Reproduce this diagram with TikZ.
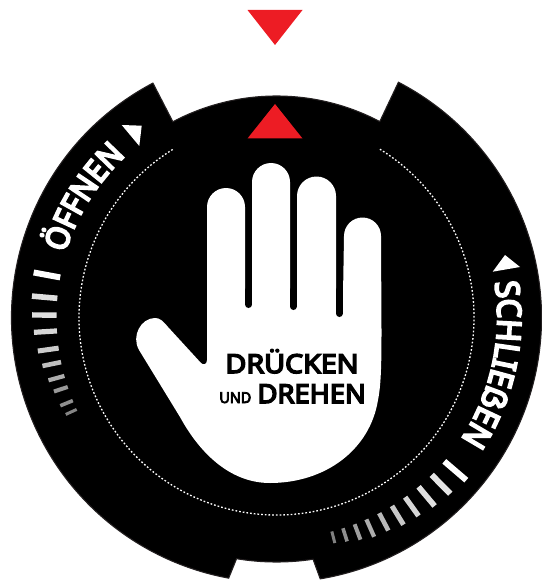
\documentclass[tikz,border=0pt]{standalone}
\usepackage{fontspec}
\setmainfont{Noto Sans}[FakeStretch=0.93,FakeBold=6]
\newfontfamily\widebold{Noto Sans}[FakeStretch=1.1,FakeBold=6]
\newfontfamily\midbold{Noto Sans}[FakeStretch=1.05,FakeBold=6]
\newfontfamily\narrowbold{Noto Sans}[FakeStretch=0.96,FakeBold=5]
\usetikzlibrary{decorations.text,calc}
\definecolor{rimgrey}{HTML}{231F20}
\definecolor{signalred}{HTML}{ED1C24}
\tikzset{
  x=1pt,y=1pt,
  rimshape/.style={fill=black,draw=rimgrey,line width=1.1pt,line join=miter},
  redmark/.style={fill=signalred,draw=none},
  whitemark/.style={fill=white,draw=none},
  dialdots/.style={draw=white,line width=1.3pt,dash pattern=on 1.7pt off 2pt},
  handshape/.style={fill=white,draw=none},
  slit/.style={draw=black,line width=7pt,line cap=round},
  ticktip/.style={line cap=butt},
  biglabel/.style={font=\widebold\fontsize{26}{26}\selectfont,text=black,inner sep=0pt},
  midlabel/.style={font=\midbold\fontsize{26}{26}\selectfont,text=black,inner sep=0pt},
  smalllabel/.style={font=\narrowbold\fontsize{15}{15}\selectfont,text=black,inner sep=0pt}
}
\begin{document}
\begin{tikzpicture}
\useasboundingbox (0,-580) rectangle (541,0);
\coordinate (c) at (276.5,-317.5);
% rim
\draw[rimshape] ($(c)+(117.8:265)$) arc[start angle=117.8,end angle=259.6,radius=265]
  -- ($(c)+(260.6:244.5)$) arc[start angle=260.6,end angle=278.6,radius=244.5]
  -- ($(c)+(279.5:265)$) arc[start angle=279.5,end angle=422.6,radius=265]
  -- ($(c)+(62.2:221.5)$) arc[start angle=62.2,end angle=117.9,radius=221.5] -- cycle;
% dotted ring
\draw[dialdots] ($(c)+(121.7:197.5)$) arc[start angle=121.7,end angle=418.5,radius=197.5];
% red markers
\fill[redmark] (247.5,-10) -- (302.5,-10) -- (275,-45) -- cycle;
\fill[redmark] (247.5,-138.5) -- (302.5,-138.5) -- (275,-104) -- cycle;
% white markers
\fill[whitemark] (121.7,-125) -- (141.7,-125.7) -- (139.3,-146) -- cycle;
\fill[whitemark] (505,-255) -- (520,-267) -- (492.7,-271.7) -- cycle;
% hand
\fill[handshape] (207,-207) arc[start angle=180,end angle=0,radius=19] -- (245,-295)
 -- (252,-295) -- (252,-182) arc[start angle=180,end angle=0,radius=19] -- (290,-295)
 -- (297,-295) -- (297,-196) arc[start angle=180,end angle=0,radius=19.5] -- (336,-295)
 -- (343,-295) -- (344,-236) arc[start angle=180,end angle=0,radius=18.5]
 -- (381.5,-330) .. controls (381.5,-365) and (381,-385) .. (378,-400)
 .. controls (370,-450) and (325,-483) .. (270,-483)
 .. controls (228,-483) and (198,-450) .. (180,-417)
 -- (139,-350) .. controls (131,-336) and (141,-318) .. (155,-318)
 .. controls (160,-318) and (163,-321) .. (168,-327)
 -- (201,-363) .. controls (203,-365) and (207,-365) .. (207,-360) -- cycle;
\draw[slit] (248.7,-290) -- (248.7,-304.5);
\draw[slit] (293.3,-290) -- (293.3,-306.5);
\draw[slit] (339.3,-290) -- (339.3,-313.5);
% ticks left
\foreach \a/\r/\w/\g in {169.5/247/6/100,175/245.5/5.6/88,179.4/244.5/5.4/87,183.5/243/5.2/84,188/241/5/80,191.7/239/4.6/75,195.4/236.5/4.2/68,198.4/234.5/4/60,202.2/233.5/3.6/56,204.7/232/3/52}{
  \draw[ticktip,line width=\w,draw=white!\g!black] ($(c)+(\a:220)$) -- ($(c)+(\a:\r)$);
}
% ticks right
\foreach \a/\r/\w/\g in {-40.6/250/6/100,-45.4/247.5/6/90,-50/246/5.6/88,-54.4/244/5.2/84,-58.5/243/5/78,-62.3/240.6/4.6/72,-66/240/4.2/68,-69.3/237.5/4/62,-72.5/234.7/3.6/56,-75.5/233/3/50}{
  \draw[ticktip,line width=\w,draw=white!\g!black] ($(c)+(\a:221)$) -- ($(c)+(\a:\r)$);
}
% curved labels
\path[decorate,decoration={text along path,text align=center,
   text={|\fontsize{32}{32}\selectfont\color{white}|ÖFFNEN}}]
   ($(c)+(178:221)$) arc[start angle=178,end angle=118,radius=221];
\path[decorate,decoration={text along path,text align=center,
   text={|\fontsize{33}{33}\selectfont\color{white}|SCHLIEẞEN}}]
   ($(c)+(20:221)$) arc[start angle=20,end angle=-44.4,radius=221];
% centre text
\node[biglabel,anchor=base] (line1) at (292,-373) {DRÜCKEN};
\node[midlabel,anchor=base east] (line2) at (366,-403) {DREHEN};
\node[smalllabel,anchor=base east] (und) at (251.5,-403) {UND};
\end{tikzpicture}
\end{document}
